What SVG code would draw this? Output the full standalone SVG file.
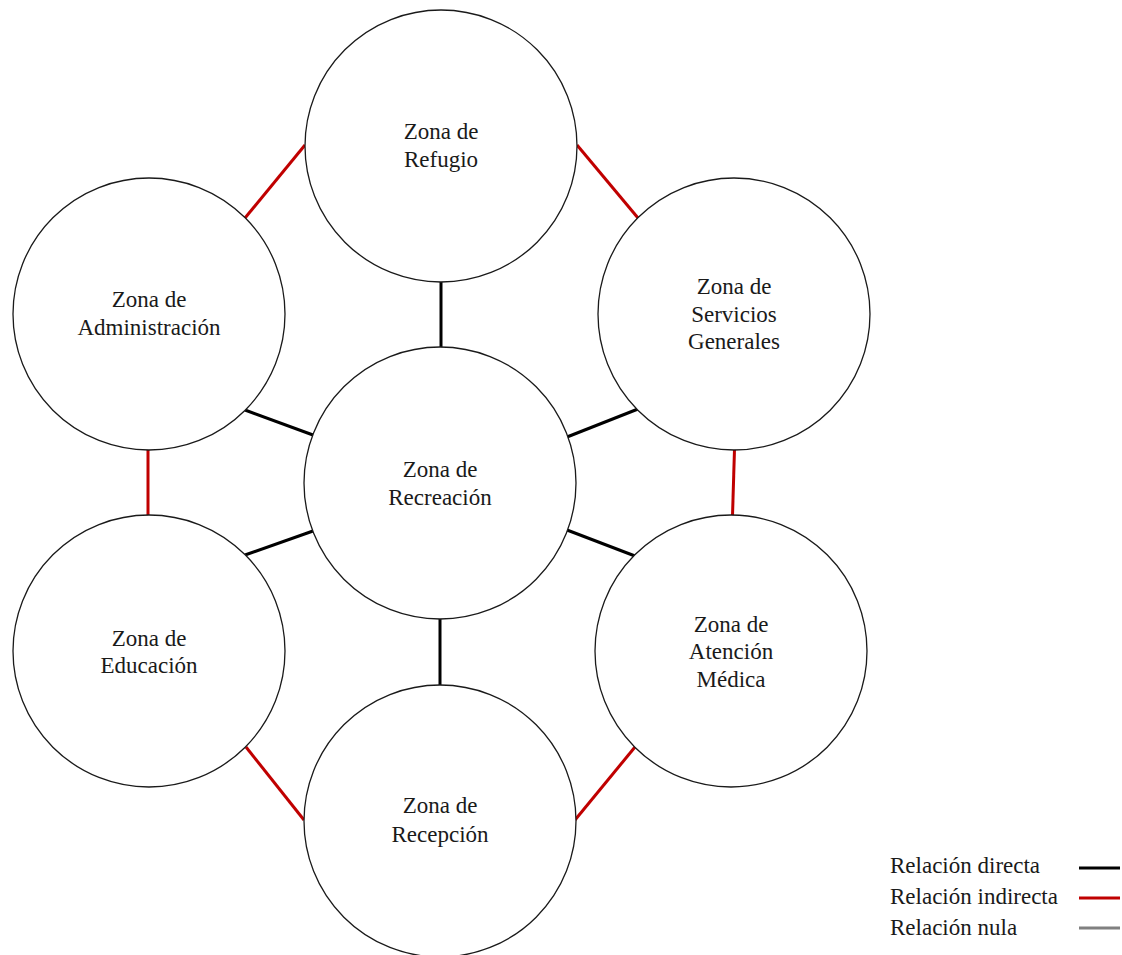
<svg xmlns="http://www.w3.org/2000/svg" width="1122" height="955" viewBox="0 0 1122 955">
<style>
.node circle{fill:#fff;stroke:#1a1a1a;stroke-width:1.3}
text{font-family:"Liberation Serif","Times New Roman",serif;font-size:23px;fill:#1a1a1a}
.node text{text-anchor:middle}
.d{stroke:#000;stroke-width:3;fill:none}
.i{stroke:#c00000;stroke-width:3;fill:none}
.n{stroke:#808080;stroke-width:3;fill:none}
</style>
<rect width="1122" height="955" fill="#fff"/>
<g id="connectors">
<line class="d" x1="441" y1="280" x2="441" y2="349"/>
<line class="d" x1="440" y1="617" x2="440" y2="687"/>
<line class="d" x1="245" y1="410" x2="313" y2="435"/>
<line class="d" x1="567" y1="437" x2="638" y2="409"/>
<line class="d" x1="245" y1="555" x2="313" y2="531"/>
<line class="d" x1="567" y1="530" x2="635" y2="556"/>
<line class="i" x1="245" y1="218" x2="305" y2="145"/>
<line class="i" x1="577" y1="145" x2="638" y2="218"/>
<line class="i" x1="148" y1="449" x2="148" y2="516"/>
<line class="i" x1="734.5" y1="449" x2="732.5" y2="516"/>
<line class="i" x1="246" y1="747" x2="304" y2="820"/>
<line class="i" x1="635" y1="747" x2="575" y2="820"/>
</g>
<g id="refugio" class="node">
<circle cx="441" cy="146" r="136"/>
<text x="441" y="139">Zona de</text>
<text x="441" y="167">Refugio</text>
</g>
<g id="administracion" class="node">
<circle cx="149" cy="314" r="136"/>
<text x="149" y="307">Zona de</text>
<text x="149" y="335">Administración</text>
</g>
<g id="servicios" class="node">
<circle cx="734" cy="314" r="136"/>
<text x="734" y="294">Zona de</text>
<text x="734" y="322">Servicios</text>
<text x="734" y="349">Generales</text>
</g>
<g id="recreacion" class="node">
<circle cx="440" cy="483" r="136"/>
<text x="440" y="477">Zona de</text>
<text x="440" y="505">Recreación</text>
</g>
<g id="educacion" class="node">
<circle cx="149" cy="651" r="136"/>
<text x="149" y="646">Zona de</text>
<text x="149" y="673">Educación</text>
</g>
<g id="atencion" class="node">
<circle cx="731" cy="651" r="136"/>
<text x="731" y="632">Zona de</text>
<text x="731" y="659">Atención</text>
<text x="731" y="687">Médica</text>
</g>
<g id="recepcion" class="node">
<circle cx="440" cy="821" r="136"/>
<text x="440" y="813">Zona de</text>
<text x="440" y="842">Recepción</text>
</g>
<g id="legend">
<text x="890" y="873">Relación directa</text>
<text x="890" y="904">Relación indirecta</text>
<text x="890" y="935">Relación nula</text>
<line class="d" x1="1079" y1="868" x2="1120" y2="868"/>
<line class="i" x1="1079" y1="898" x2="1120" y2="898"/>
<line class="n" x1="1079" y1="928" x2="1120" y2="928"/>
</g>
</svg>
